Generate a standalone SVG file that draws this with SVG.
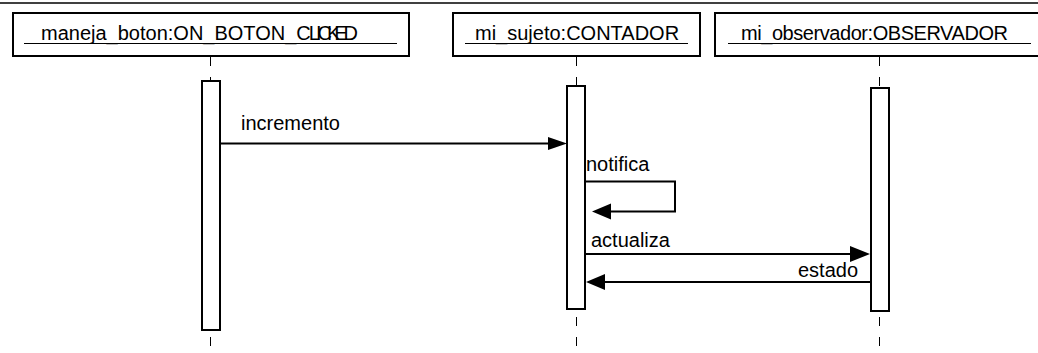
<svg xmlns="http://www.w3.org/2000/svg" width="1038" height="353" viewBox="0 0 1038 353">
  <style>
    .frame { fill: #fff; stroke: #000; stroke-width: 2; }
    .label { font-family: "Liberation Sans", Arial, sans-serif; font-size: 20px; fill: #000; }
    .uline { stroke: #000; stroke-width: 1; }
    .life { stroke: #000; stroke-width: 1; stroke-dasharray: 9 11; fill: none; }
    .act { fill: #fff; stroke: #000; stroke-width: 2; }
    .msg { stroke: #000; stroke-width: 2; fill: none; }
    .head { fill: #000; stroke: none; }
  </style>
  <rect width="1038" height="353" fill="#fff"/>
  <line x1="0" y1="3" x2="1038" y2="3" stroke="#000" stroke-width="1.5"/>

  <!-- lifelines -->
  <g id="lifelines">
    <line class="life" x1="210.5" y1="57" x2="210.5" y2="350"/>
    <line class="life" x1="576.5" y1="57" x2="576.5" y2="350"/>
    <line class="life" x1="879.5" y1="57" x2="879.5" y2="350"/>
  </g>

  <g id="maneja_boton">
    <rect class="frame" x="13" y="13" width="396" height="43"/>
    <text class="label" x="41" y="40">maneja_boton:ON_BOTON_<tspan dx="0 -2 -4 -4 -5 -6 -4">CLICKED</tspan></text>
    <line class="uline" x1="24" y1="43.5" x2="397" y2="43.5"/>
    <rect class="act" x="202" y="81" width="18" height="249"/>
  </g>

  <g id="mi_sujeto">
    <rect class="frame" x="453" y="13" width="247" height="43"/>
    <text class="label" x="475" y="40">mi_sujeto:CONTADOR</text>
    <line class="uline" x1="465" y1="43.5" x2="688" y2="43.5"/>
    <rect class="act" x="567" y="86" width="18" height="223"/>
  </g>

  <g id="mi_observador">
    <rect class="frame" x="715" y="13" width="330" height="43"/>
    <text class="label" x="741" y="40" textLength="267" lengthAdjust="spacing">mi_observador:OBSERVADOR</text>
    <line class="uline" x1="728" y1="43.5" x2="1031" y2="43.5"/>
    <rect class="act" x="871" y="88" width="18" height="223"/>
  </g>

  <!-- messages -->
  <g id="connectors">
    <line class="msg" x1="221" y1="143.5" x2="550" y2="143.5"/>
    <polygon class="head" points="567,143.5 548,137 548,150"/>
    <text class="label" x="241" y="130">incremento</text>

    <polyline class="msg" points="586,181.5 675,181.5 675,211.5 608,211.5"/>
    <polygon class="head" points="592,211.5 611,203.5 611,219.5"/>
    <text class="label" x="586" y="171">notifica</text>

    <line class="msg" x1="586" y1="254" x2="852" y2="254"/>
    <polygon class="head" points="870,254 850,246 850,262"/>
    <text class="label" x="591" y="247">actualiza</text>

    <line class="msg" x1="870" y1="282" x2="603" y2="282"/>
    <polygon class="head" points="586,282 605,274 605,290"/>
    <text class="label" x="798" y="277">estado</text>
  </g>
</svg>
